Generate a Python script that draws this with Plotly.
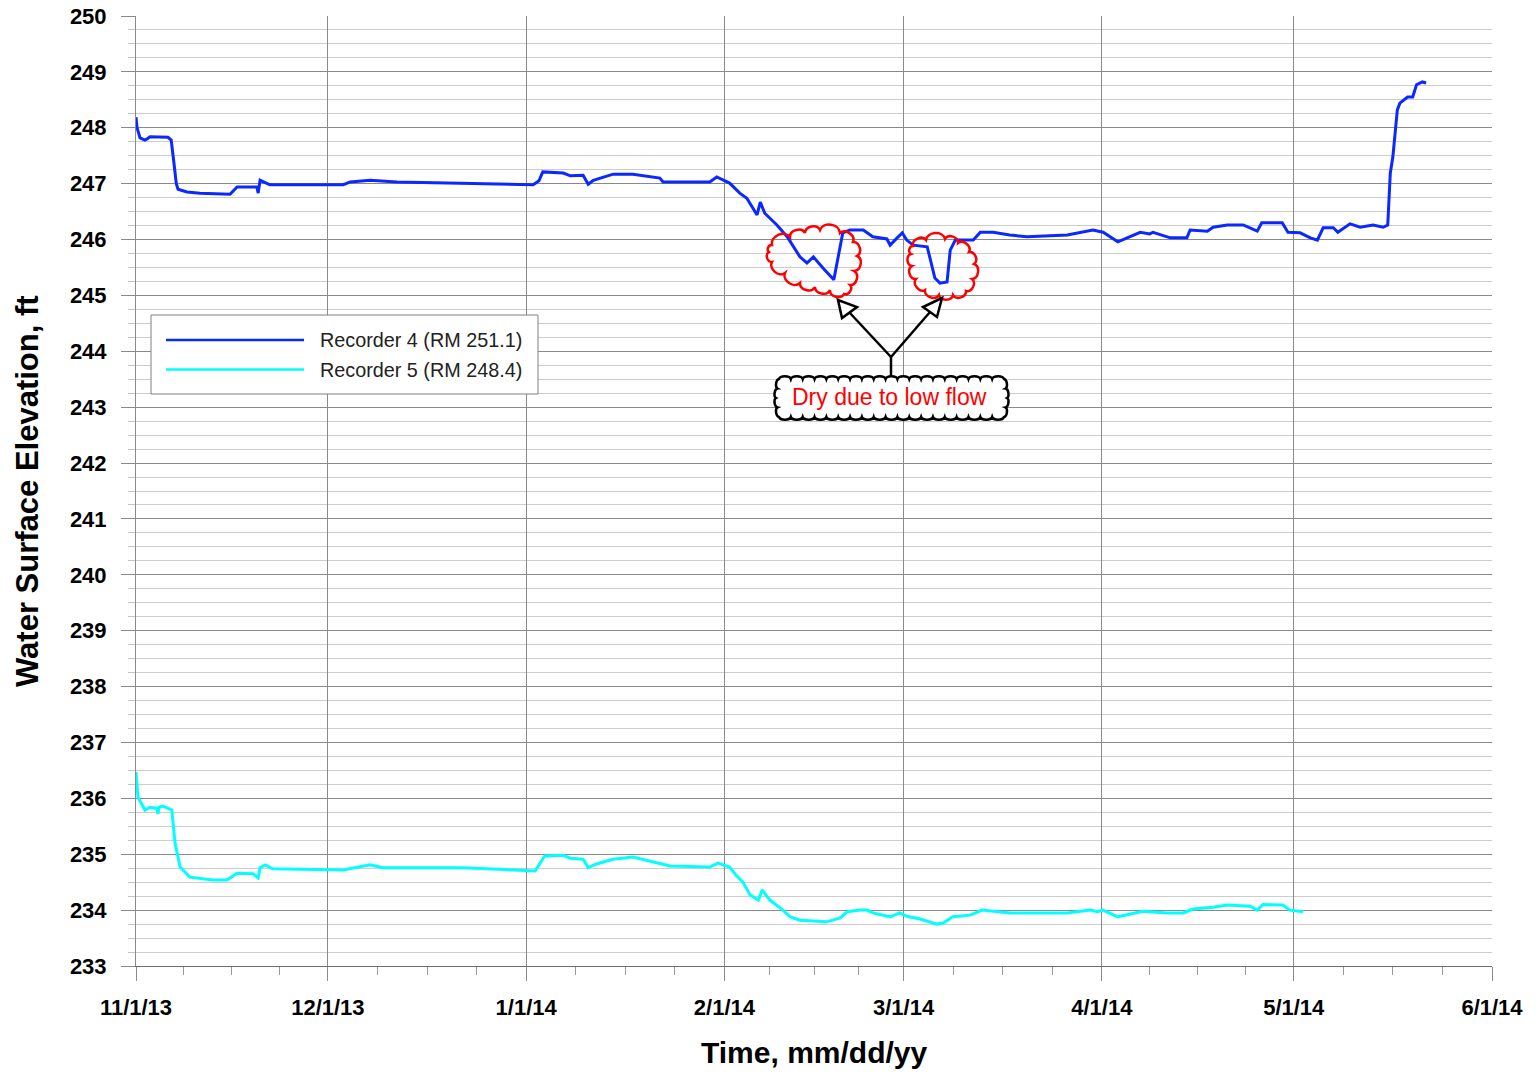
import math
import pandas as pd
import plotly.graph_objects as go

# ---------------- data ----------------
start_date = "2013-11-01"

rec4_days = [0, 0.16, 0.63, 1.4, 1.72, 2.19, 5.0, 5.5, 5.9, 6.3, 6.57, 7.97, 10, 14.7, 15.8, 18.9, 19.1, 19.4,
             20.95, 32.4, 33.5, 36.6, 40.8, 51.1, 62.1, 63.0, 63.6, 66.8, 67.9, 69.9, 70.7, 71.5, 74.6, 77.7,
             81.9, 82.4, 89.7, 90.8, 92.8, 94.4, 95.5, 97.1, 97.6, 98.3, 100.2, 101.8, 103.8, 104.9, 105.9,
             107.4, 109.1, 110.5, 111.6, 113.7, 115.2, 117.4, 117.9, 119.0, 119.8, 120.5, 121.5, 123.7, 124.1,
             124.9, 125.7, 126.8, 127.3, 128.1, 130.9, 132.0, 134.0, 136.6, 139.3, 145.6, 149.6, 151.2, 153.5,
             157.0, 158.5, 159.0, 161.7, 164.3, 164.8, 167.5, 168.4, 170.6, 173.1, 175.3, 176.0, 179.2, 180.1,
             182.0, 183.6, 184.7, 185.6, 187.2, 187.9, 189.8, 191.4, 193.4, 195.0, 195.7, 196.1, 196.5, 197.2,
             197.6, 198.8, 199.6, 200.2, 201.1, 201.7]
rec4_vals = [248.19, 248.0, 247.82, 247.78, 247.80, 247.84, 247.83, 247.78, 247.4, 247.0, 246.90, 246.85, 246.83,
             246.81, 246.94, 246.94, 246.83, 247.06, 246.98, 246.98, 247.03, 247.06, 247.03, 247.01, 246.98,
             247.05, 247.21, 247.19, 247.14, 247.15, 246.99, 247.06, 247.17, 247.17, 247.10, 247.03, 247.03,
             247.12, 247.01, 246.83, 246.74, 246.44, 246.67, 246.47, 246.26, 246.05, 245.69, 245.58, 245.69,
             245.49, 245.28, 246.12, 246.17, 246.17, 246.05, 246.01, 245.90, 246.03, 246.12, 245.99, 245.90,
             245.87, 245.69, 245.31, 245.22, 245.24, 245.81, 245.99, 245.99, 246.13, 246.13, 246.08, 246.05,
             246.08, 246.17, 246.13, 245.96, 246.13, 246.10, 246.13, 246.03, 246.03, 246.17, 246.15, 246.22,
             246.26, 246.26, 246.15, 246.30, 246.30, 246.13, 246.12, 246.03, 245.99, 246.21, 246.21, 246.13,
             246.28, 246.22, 246.26, 246.22, 246.26, 247.19, 247.48, 248.32, 248.44, 248.55, 248.55, 248.77,
             248.82, 248.80]

rec5_days = [0, 0.31, 1.4, 2.19, 3.28, 3.44, 3.6, 4.2, 5.6, 6.1, 6.9, 8.4, 12.0, 14.2, 15.8, 18.3, 19.1, 19.4,
             20.2, 21.4, 32.4, 34.6, 36.6, 38.6, 51.1, 62.4, 63.9, 66.8, 67.9, 69.9, 70.7, 72.1, 74.6, 77.7,
             81.9, 83.5, 89.7, 91.0, 92.8, 94.0, 94.9, 96.0, 97.3, 97.9, 99.1, 100.7, 102.3, 103.8, 108.0,
             110.1, 111.2, 113.2, 114.3, 115.2, 117.9, 119.4, 120.5, 122.6, 125.2, 126.2, 127.7, 130.4, 132.3,
             136.6, 145.6, 149.2, 150.3, 151.2, 153.5, 157.4, 161.2, 163.7, 165.3, 168.4, 170.6, 174.2, 175.3,
             176.2, 179.3, 180.4, 182.5]
rec5_vals = [236.47, 236.02, 235.79, 235.84, 235.82, 235.72, 235.84, 235.86, 235.79, 235.20, 234.77, 234.59,
             234.54, 234.54, 234.66, 234.65, 234.58, 234.76, 234.81, 234.74, 234.72, 234.77, 234.81, 234.76,
             234.76, 234.70, 234.97, 234.98, 234.93, 234.91, 234.76, 234.83, 234.91, 234.95, 234.84, 234.79,
             234.77, 234.84, 234.77, 234.60, 234.50, 234.27, 234.18, 234.36, 234.18, 234.04, 233.88, 233.82,
             233.79, 233.86, 233.97, 234.00, 234.00, 233.95, 233.88, 233.95, 233.89, 233.84, 233.75, 233.77,
             233.88, 233.91, 234.00, 233.95, 233.95, 234.00, 233.97, 234.00, 233.88, 233.98, 233.95, 233.95,
             234.02, 234.05, 234.09, 234.07, 234.00, 234.10, 234.09, 234.00, 233.97]

series_names = ["Recorder 4 (RM 251.1)", "Recorder 5 (RM 248.4)"]
month_ticks = ["2013-11-01", "2013-12-01", "2014-01-01", "2014-02-01", "2014-03-01",
               "2014-04-01", "2014-05-01", "2014-06-01"]
month_labels = ["11/1/13", "12/1/13", "1/1/14", "2/1/14", "3/1/14", "4/1/14", "5/1/14", "6/1/14"]
callout_text = "Dry due to low flow"

# ---------------- figure ----------------
t0 = pd.Timestamp(start_date)
x4 = [t0 + pd.Timedelta(days=d) for d in rec4_days]
x5 = [t0 + pd.Timedelta(days=d) for d in rec5_days]

fig = go.Figure()
fig.add_trace(go.Scatter(x=x4, y=rec4_vals, mode="lines", name=series_names[0],
                         line=dict(color="#0a28ff", width=3)))
fig.add_trace(go.Scatter(x=x5, y=rec5_vals, mode="lines", name=series_names[1],
                         line=dict(color="#00ffff", width=3)))

# minor x ticks at quarter months
minor_x = []
for a, b in zip(month_ticks[:-1], month_ticks[1:]):
    ta, tb = pd.Timestamp(a), pd.Timestamp(b)
    for k in (1, 2, 3):
        minor_x.append(ta + (tb - ta) * k / 4)

L, R, T, B = 136, 1492, 16, 966
W, H = 1537, 1073


def P(px, py):
    return ((px - L) / (R - L), (B - py) / (B - T))


def fmt(px, py):
    x, y = P(px, py)
    return f"{x:.5f},{y:.5f}"


def cloud_path(pts, seg=16, bulge=0.55):
    cx = sum(p[0] for p in pts) / len(pts)
    cy = sum(p[1] for p in pts) / len(pts)
    path = "M" + fmt(*pts[0])
    n = len(pts)
    for i in range(n):
        a = pts[i]
        b = pts[(i + 1) % n]
        dx, dy = b[0] - a[0], b[1] - a[1]
        dist = math.hypot(dx, dy)
        k = max(1, round(dist / seg))
        for j in range(k):
            sx = a[0] + dx * j / k
            sy = a[1] + dy * j / k
            ex = a[0] + dx * (j + 1) / k
            ey = a[1] + dy * (j + 1) / k
            mx, my = (sx + ex) / 2, (sy + ey) / 2
            l = math.hypot(ex - sx, ey - sy)
            nx, ny = -(ey - sy) / l, (ex - sx) / l
            if (mx - cx) * nx + (my - cy) * ny < 0:
                nx, ny = -nx, -ny
            c1x, c1y = sx + (ex - sx) * 0.1 + nx * l * bulge, sy + (ey - sy) * 0.1 + ny * l * bulge
            c2x, c2y = sx + (ex - sx) * 0.9 + nx * l * bulge, sy + (ey - sy) * 0.9 + ny * l * bulge
            path += " C" + fmt(c1x, c1y) + " " + fmt(c2x, c2y) + " " + fmt(ex, ey)
    return path + " Z"


shapes = []
cloud1 = [(772, 245), (790, 237), (805, 233), (820, 230), (840, 233), (853, 242), (857, 256), (854, 271),
          (850, 285), (844, 294), (830, 290), (815, 287), (800, 283), (785, 273), (772, 262), (769, 252)]
cloud2 = [(913, 246), (926, 240), (945, 239), (958, 243), (969, 252), (974, 264), (972, 279), (966, 291),
          (953, 295), (939, 295), (925, 290), (916, 279), (912, 266), (911, 254)]
for c in (cloud1, cloud2):
    shapes.append(dict(type="path", xref="paper", yref="paper", path=cloud_path(c, seg=15, bulge=0.45),
                       line=dict(color="#ff0000", width=2.5), layer="above"))

box = [(779, 379), (1004, 379), (1007, 398), (1004, 417), (779, 417), (776, 398)]
shapes.append(dict(type="path", xref="paper", yref="paper", path=cloud_path(box, seg=12, bulge=0.3),
                   line=dict(color="#000000", width=2.5), fillcolor="#ffffff", layer="above"))

# arrows
def seg_line(x0, y0, x1, y1):
    a = P(x0, y0)
    b = P(x1, y1)
    return dict(type="line", xref="paper", yref="paper", x0=a[0], y0=a[1], x1=b[0], y1=b[1],
                line=dict(color="#000000", width=2.5), layer="above")

shapes.append(seg_line(891, 376, 891, 357))
shapes.append(seg_line(891, 357, 849, 312))
shapes.append(seg_line(891, 357, 930, 312))
for tri in ([(838, 300), (842, 318), (857, 307)], [(942, 298), (923, 307), (937, 317)]):
    shapes.append(dict(type="path", xref="paper", yref="paper",
                       path="M" + fmt(*tri[0]) + " L" + fmt(*tri[1]) + " L" + fmt(*tri[2]) + " Z",
                       line=dict(color="#000000", width=2.5), fillcolor="#ffffff", layer="above"))

# custom legend
lx0, ly0 = P(151, 394)
lx1, ly1 = P(538, 315)
shapes.append(dict(type="rect", xref="paper", yref="paper", x0=lx0, y0=ly0, x1=lx1, y1=ly1,
                   line=dict(color="#808080", width=1), fillcolor="#ffffff", layer="above"))
colors = ["#0a28ff", "#00ffff"]
annotations = []
for i, (name, col) in enumerate(zip(series_names, colors)):
    yy = 340 + i * 29.5
    a = P(166, yy)
    b = P(304, yy)
    shapes.append(dict(type="line", xref="paper", yref="paper", x0=a[0], y0=a[1], x1=b[0], y1=b[1],
                       line=dict(color=col, width=2.5), layer="above"))
    tp = P(318, yy)
    annotations.append(dict(xref="paper", yref="paper", x=tp[0], y=tp[1], text=name, showarrow=False,
                            xanchor="left", yanchor="middle",
                            font=dict(family="Liberation Sans, Arial", size=19.8, color="#222222")))

cp = P(889, 397)
annotations.append(dict(xref="paper", yref="paper", x=cp[0], y=cp[1], text=callout_text, showarrow=False,
                        xanchor="center", yanchor="middle",
                        font=dict(family="Liberation Sans, Arial", size=23, color="#ff0000")))

xt = P(814, 1052)
annotations.append(dict(xref="paper", yref="paper", x=0.5, y=xt[1], text="Time, mm/dd/yy", showarrow=False,
                        xanchor="center", yanchor="middle",
                        font=dict(family="Liberation Sans, Arial", size=30, color="#000000", weight="bold")))
yt = P(27, 491)
annotations.append(dict(xref="paper", yref="paper", x=yt[0], y=0.5, text="Water Surface Elevation, ft",
                        showarrow=False, textangle=-90, xanchor="center", yanchor="middle",
                        font=dict(family="Liberation Sans, Arial", size=31, color="#000000", weight="bold")))

tickfont = dict(family="Liberation Sans, Arial", size=22, color="#000000", weight="bold")

fig.update_layout(
    width=W, height=H,
    margin=dict(l=L, r=W - R, t=T, b=H - B, pad=0, autoexpand=False),
    paper_bgcolor="#ffffff", plot_bgcolor="#ffffff",
    showlegend=False,
    shapes=shapes, annotations=annotations,
    xaxis=dict(type="date", range=[month_ticks[0], month_ticks[-1]], tickmode="array",
               tickvals=month_ticks, ticktext=month_labels, tickfont=tickfont, automargin=False,
               showgrid=True, gridcolor="#8a8a8a", gridwidth=1,
               ticks="outside", ticklen=14, tickcolor="#8a8a8a", tickwidth=1,
               showline=True, linecolor="#6e6e6e", linewidth=1, zeroline=False,
               ticklabelstandoff=8,
               minor=dict(tickmode="array", tickvals=minor_x, ticks="outside", ticklen=8,
                          tickcolor="#9a9a9a", showgrid=False)),
    yaxis=dict(range=[233, 250], tickmode="linear", tick0=233, dtick=1, tickfont=tickfont, automargin=False,
               showgrid=True, gridcolor="#8a8a8a", gridwidth=1,
               ticks="outside", ticklen=14, tickcolor="#8a8a8a", tickwidth=1,
               showline=True, linecolor="#8a8a8a", linewidth=1, zeroline=False,
               ticklabelstandoff=10,
               minor=dict(tickmode="linear", tick0=233, dtick=0.25, ticks="outside", ticklen=7,
                          tickcolor="#c4c4c4", showgrid=True, gridcolor="#cccccc", gridwidth=1)),
)

fig.write_html("out.html", config={"displayModeBar": False},
               post_script="document.body.style.margin='0';document.body.style.overflow='hidden';")
